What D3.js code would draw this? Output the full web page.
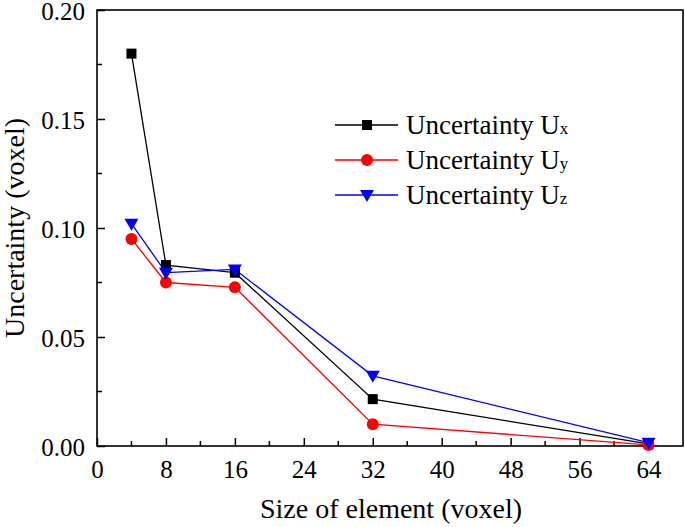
<!DOCTYPE html>
<html><head><meta charset="utf-8">
<script src="https://cdn.jsdelivr.net/npm/d3@7"></script>
<style>body{margin:0;background:#fff}svg{display:block}text{font-family:"Liberation Serif","Times New Roman",serif}</style>
</head><body>
<svg id="c" width="685" height="527"></svg>
<script>
const sizes = [4, 8, 16, 32, 64];
const ux = [0.180, 0.083, 0.0795, 0.0215, 0.001];
const uy = [0.095, 0.075, 0.0728, 0.0100, 0.0005];
const uz = [0.102, 0.0795, 0.081, 0.0322, 0.0015];
const xTicks = [0, 8, 16, 24, 32, 40, 48, 56, 64];
const yTicks = [0, 0.05, 0.10, 0.15, 0.20];
const seriesNames = ["x", "y", "z"];

const svg = d3.select("#c");
const m = {l: 97, r: 683, t: 10, b: 446};
const x = d3.scaleLinear().domain([0, 68]).range([m.l, m.r]);
const y = d3.scaleLinear().domain([0, 0.2]).range([m.b, m.t]);

svg.append("rect").attr("x", m.l).attr("y", m.t).attr("width", m.r - m.l).attr("height", m.b - m.t)
  .attr("fill", "none").attr("stroke", "#000").attr("stroke-width", 1.6);

const minorX = d3.range(4, 68, 8);
const gx = svg.append("g").attr("transform", `translate(0,${m.b})`);
gx.call(d3.axisBottom(x).tickValues(xTicks).tickSize(-8).tickFormat(d3.format("d")).tickPadding(14))
  .call(g => g.select(".domain").remove());
gx.attr("font-family", null);
gx.selectAll(".tick line").attr("stroke-width", 1.5);
gx.selectAll("text").attr("font-size", 25).attr("fill", "#000").attr("dy", "0.71em")
  .style("font-family", '"Liberation Serif", serif');
gx.selectAll(".minor").data(minorX).enter().append("line").attr("class", "minor")
  .attr("x1", d => x(d)).attr("x2", d => x(d)).attr("y1", 0).attr("y2", -5)
  .attr("stroke", "#000").attr("stroke-width", 1.5);

const minorY = [0.025, 0.075, 0.125, 0.175];
const gy = svg.append("g").attr("transform", `translate(${m.l},0)`);
gy.call(d3.axisLeft(y).tickValues(yTicks).tickSize(-8).tickFormat(d3.format(".2f")).tickPadding(12))
  .call(g => g.select(".domain").remove());
gy.attr("font-family", null);
gy.selectAll(".tick line").attr("stroke-width", 1.5);
gy.selectAll("text").attr("font-size", 25).attr("fill", "#000").attr("dy", "0.38em")
  .style("font-family", '"Liberation Serif", serif');
gy.selectAll(".minor").data(minorY).enter().append("line").attr("class", "minor")
  .attr("y1", d => y(d)).attr("y2", d => y(d)).attr("x1", 0).attr("x2", 5)
  .attr("stroke", "#000").attr("stroke-width", 1.5);

svg.append("text").attr("x", 391).attr("y", 518).attr("text-anchor", "middle")
  .attr("font-size", 28).text("Size of element (voxel)");
svg.append("text").attr("transform", `translate(24,228) rotate(-90)`).attr("text-anchor", "middle")
  .attr("font-size", 28).text("Uncertainty (voxel)");

const series = [
  {vals: ux, color: "#000000", shape: "square"},
  {vals: uy, color: "#ff0000", shape: "circle"},
  {vals: uz, color: "#0000ff", shape: "tri"}
];
function marker(g, shape, color, cx, cy) {
  if (shape === "square") g.append("rect").attr("x", cx - 5).attr("y", cy - 5).attr("width", 10).attr("height", 10).attr("fill", color);
  else if (shape === "circle") g.append("circle").attr("cx", cx).attr("cy", cy).attr("r", 6).attr("fill", color);
  else g.append("path").attr("d", `M${cx - 7},${cy - 5}L${cx + 7},${cy - 5}L${cx},${cy + 7}Z`).attr("fill", color);
}
const line = d3.line().x(d => x(d[0])).y(d => y(d[1]));
series.forEach(s => {
  const pts = sizes.map((v, i) => [v, s.vals[i]]);
  svg.append("path").attr("d", line(pts)).attr("fill", "none").attr("stroke", s.color).attr("stroke-width", 1.3);
});
series.forEach(s => {
  const g = svg.append("g");
  sizes.forEach((v, i) => marker(g, s.shape, s.color, x(v), y(s.vals[i])));
});

const lg = svg.append("g");
series.forEach((s, i) => {
  const ly = 125 + i * 35;
  lg.append("line").attr("x1", 335).attr("x2", 398).attr("y1", ly).attr("y2", ly).attr("stroke", s.color).attr("stroke-width", 1.3);
  marker(lg, s.shape, s.color, 367, ly);
  const t = lg.append("text").attr("x", 406).attr("y", ly + 9).attr("font-size", 27);
  t.append("tspan").text("Uncertainty U");
  t.append("tspan").attr("font-size", 17).text(seriesNames[i]);
});
</script>
</body></html>
